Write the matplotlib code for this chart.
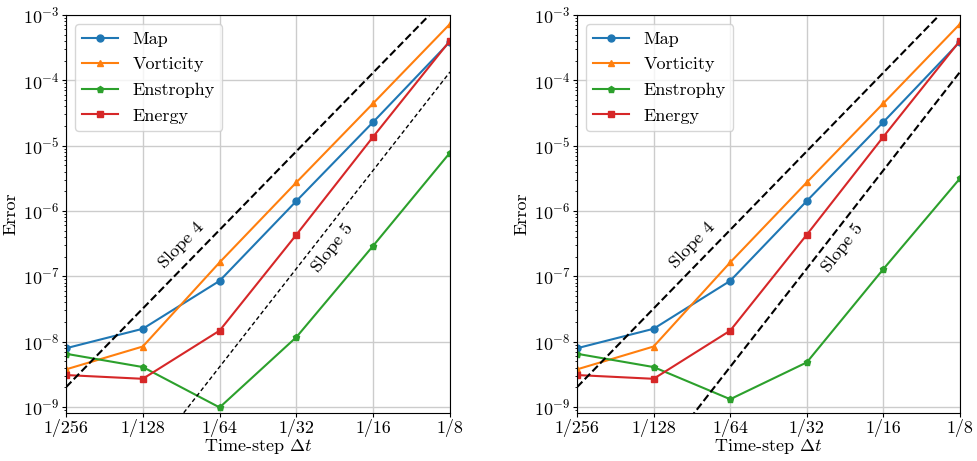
import numpy as np
import matplotlib
matplotlib.use("Agg")
import matplotlib.pyplot as plt
import matplotlib.ticker as ticker

plt.rcParams['font.family'] = 'serif'
plt.rcParams['font.serif'] = ['cmr10', 'DejaVu Serif']
plt.rcParams['mathtext.fontset'] = 'cm'
plt.rcParams['axes.formatter.use_mathtext'] = True
plt.rcParams['font.size'] = 13

dt = [1/256, 1/128, 1/64, 1/32, 1/16, 1/8]
dt_labels = ['1/256', '1/128', '1/64', '1/32', '1/16', '1/8']

map_err = [7.9e-9, 1.57e-8, 8.5e-8, 1.42e-6, 2.3e-5, 3.9e-4]
vort_err = [3.75e-9, 8.4e-9, 1.63e-7, 2.74e-6, 4.45e-5, 7.3e-4]
energy_err = [3.07e-9, 2.69e-9, 1.47e-8, 4.33e-7, 1.37e-5, 4.05e-4]
enstrophy_left = [6.5e-9, 4.07e-9, 9.8e-10, 1.17e-8, 2.93e-7, 7.8e-6]
enstrophy_right = [6.5e-9, 4.07e-9, 1.31e-9, 4.8e-9, 1.29e-7, 3.15e-6]

# reference slopes C * dt^p
slope4_c = 8.6
slope5_c = 4.4


def plot_panel(ax, enstrophy, thin_slope5):
    ax.plot(dt, map_err, marker='o', ms=5, color='C0', label='Map')
    ax.plot(dt, vort_err, marker='^', ms=5, color='C1', label='Vorticity')
    ax.plot(dt, enstrophy, marker='p', ms=4.5, color='C2', label='Enstrophy')
    ax.plot(dt, energy_err, marker='s', ms=5, color='C3', label='Energy')

    xs = np.array([1/256, 1/8])
    ax.plot(xs, slope4_c * xs**4, 'k--', lw=1.5)
    if thin_slope5:
        ax.plot(xs, slope5_c * xs**5, 'k--', lw=1.0, dashes=(3, 2))
    else:
        ax.plot(xs, slope5_c * xs**5, 'k--', lw=1.5)

    ax.text(0.30, 0.42, 'Slope 4', transform=ax.transAxes, rotation=46,
            ha='center', va='center')
    ax.text(0.693, 0.415, 'Slope 5', transform=ax.transAxes, rotation=52,
            ha='center', va='center')

    ax.set_xscale('log', base=2)
    ax.set_yscale('log')
    ax.set_xlim(1/256, 1/8)
    ax.set_ylim(8.2e-10, 1e-3)
    ax.set_xticks(dt)
    ax.set_xticklabels(dt_labels)
    ax.xaxis.set_minor_locator(ticker.NullLocator())
    ax.tick_params(axis='x', which='major', length=3, pad=2)
    ax.tick_params(axis='y', which='major', length=3, pad=1.5)
    ax.tick_params(axis='y', which='minor', length=1.8)
    ax.set_xlabel(r'Time-step $\Delta t$', labelpad=0)
    ax.set_ylabel('Error', labelpad=3)
    ax.grid(True, which='major', color='#cccccc', lw=1)
    ax.set_axisbelow(True)
    ax.legend(loc='upper left', fontsize=13, labelspacing=0.55)


fig = plt.figure(figsize=(9.78, 4.61), dpi=100)
ax1 = fig.add_axes([66/978, 1 - 412.5/461, 384/978, 397.5/461])
ax2 = fig.add_axes([577/978, 1 - 412.5/461, 383/978, 397.5/461])

plot_panel(ax1, enstrophy_left, True)
plot_panel(ax2, enstrophy_right, False)

fig.savefig('out.png', dpi=100)
